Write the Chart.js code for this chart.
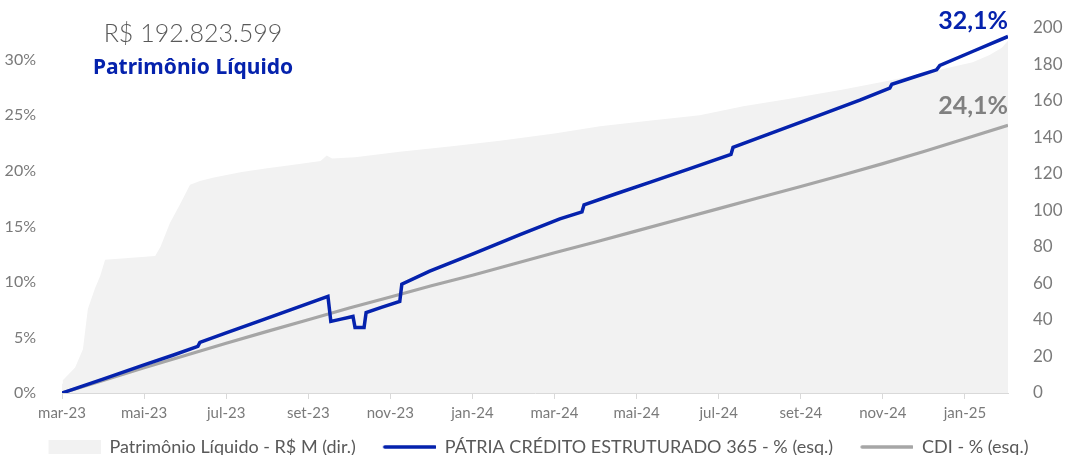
<!DOCTYPE html>
<html><head><meta charset="utf-8">
<script src="https://cdn.jsdelivr.net/npm/chart.js@4.4.1/dist/chart.umd.min.js"></script>
<style>html,body{margin:0;padding:0;background:#fff}#wrap{width:1065px;height:455px}</style>
</head><body><div id="wrap"><canvas id="c" width="1065" height="455"></canvas></div>
<script>
// ---- data (x = months after the first label, mar-23) ----
const tickLabels = ['mar-23','mai-23','jul-23','set-23','nov-23','jan-24','mar-24','mai-24','jul-24','set-24','nov-24','jan-25'];
const tickPositions = [0,2,4,6,8,10,12,14,16,18,20,22];
const leftTicks = [0,5,10,15,20,25,30];

const plMonths = [0,0.02,0.32,0.51,0.63,0.8,0.93,1.05,2.27,2.4,2.63,2.87,3.12,3.36,3.7,4.38,5.0,5.51,6.0,6.3,6.45,6.58,7.14,8.23,9.5,10.67,12.0,13.11,14.3,15.54,16.6,17.73,19.0,20.17,21.2,22.19,22.6,22.9,23.05];
const plValues = [5,7,14,24,46,57,64,73,75,80,93,103,114,116,118,121,123,124.5,126,127,130,128.4,129,132,135,138,142,146,149,152,157,161,166,171,176,181,185,189,192.8];

const fundMonths = [0,1,2,2.7,3.31,3.36,4.0,4.82,5.6,6.48,6.55,6.8,7.09,7.14,7.36,7.41,7.8,8.23,8.28,8.96,10.0,11.16,12.13,12.67,12.72,13.5,14.32,15.3,16.30,16.35,17.25,18.3,19.44,20.17,20.22,20.8,21.31,21.39,22.2,23.05];
const fundValues = [0,1.25,2.54,3.4,4.2,4.56,5.41,6.5,7.53,8.70,6.44,6.65,6.89,5.89,5.89,7.25,7.73,8.25,9.79,10.97,12.5,14.25,15.68,16.31,16.95,17.94,18.97,20.21,21.48,22.11,23.35,24.8,26.37,27.46,27.8,28.5,29.1,29.5,30.77,32.1];

const cdiMonths = [0,1,2,3,4,5,6,7,8,9,10,11,12,13,14,15,16,17,18,19,20,21,22,23.05];
const cdiValues = [0,1.13,2.27,3.38,4.48,5.55,6.6,7.65,8.65,9.65,10.6,11.62,12.63,13.6,14.6,15.6,16.6,17.6,18.6,19.6,20.65,21.75,22.9,24.1];

const fundLastLabel = '32,1%';
const cdiLastLabel = '24,1%';
const plTotalText = 'R$ 192.823.599';
const plTitleText = 'Patrimônio Líquido';

const BLUE = '#0522ad';
const GRAY = '#a6a6a6';
const AREA = '#f2f2f2';
const FONT = 'Lato, "Noto Sans", sans-serif';

const toPts = (xs, ys) => xs.map((x, i) => ({x, y: ys[i]}));

// legend symbols (blank gap on the left, symbol 52px wide on the right)
const SYM_W = 64, SYM_H = 14, SYM_GAP = 12;
function symbol(kind, color, lw) {
  const c = document.createElement('canvas');
  c.width = SYM_W; c.height = SYM_H;
  const g = c.getContext('2d');
  if (kind === 'rect') {
    g.fillStyle = color;
    g.fillRect(SYM_GAP, 0, SYM_W - SYM_GAP, SYM_H);
  } else {
    g.strokeStyle = color;
    g.lineWidth = lw;
    g.lineCap = 'round';
    g.beginPath();
    g.moveTo(SYM_GAP + 1, SYM_H / 2);
    g.lineTo(SYM_W - 1, SYM_H / 2);
    g.stroke();
  }
  return c;
}

const textPlugin = {
  id: 'texts',
  afterDatasetsDraw(chart) {
    const ctx = chart.ctx;
    const ca = chart.chartArea;
    ctx.save();
    ctx.textAlign = 'center';
    ctx.textBaseline = 'middle';
    ctx.fillStyle = '#595959';
    ctx.font = '300 25px ' + FONT;
    ctx.fillText(plTotalText, 193, 34);
    ctx.fillStyle = BLUE;
    ctx.font = 'bold 21px "Noto Sans", sans-serif';
    ctx.fillText(plTitleText, 193, 68);
    const mF = chart.getDatasetMeta(1).data;
    const mC = chart.getDatasetMeta(2).data;
    const pF = mF[mF.length - 1], pC = mC[mC.length - 1];
    ctx.textAlign = 'right';
    ctx.textBaseline = 'alphabetic';
    ctx.font = 'bold 25px ' + FONT;
    ctx.fillStyle = BLUE;
    ctx.fillText(fundLastLabel, ca.right, pF.y - 7);
    ctx.fillStyle = '#808080';
    ctx.fillText(cdiLastLabel, ca.right, pC.y - 11);
    ctx.restore();
  }
};

new Chart(document.getElementById('c'), {
  type: 'line',
  data: {
    datasets: [
      {
        label: 'Patrimônio Líquido - R$ M (dir.)',
        data: toPts(plMonths, plValues),
        yAxisID: 'y2',
        fill: 'origin',
        backgroundColor: AREA,
        borderWidth: 0,
        borderColor: 'rgba(0,0,0,0)',
        pointRadius: 0,
        pointStyle: symbol('rect', AREA),
        pointBorderWidth: 0,
        order: 3
      },
      {
        label: 'PÁTRIA CRÉDITO ESTRUTURADO 365 - % (esq.)',
        data: toPts(fundMonths, fundValues),
        yAxisID: 'y',
        borderColor: BLUE,
        borderWidth: 3.5,
        pointRadius: 0,
        pointStyle: symbol('line', BLUE, 3.6),
        pointBorderWidth: 0,
        fill: false,
        tension: 0,
        order: 1
      },
      {
        label: 'CDI - % (esq.)',
        data: toPts(cdiMonths, cdiValues),
        yAxisID: 'y',
        borderColor: GRAY,
        borderWidth: 3.2,
        pointRadius: 0,
        pointStyle: symbol('line', GRAY, 3.4),
        pointBorderWidth: 0,
        fill: false,
        tension: 0,
        order: 2
      }
    ]
  },
  options: {
    responsive: false,
    animation: false,
    events: [],
    layout: {padding: {top: 23, left: 0, right: 0, bottom: -11}},
    plugins: {
      tooltip: {enabled: false},
      legend: {
        position: 'bottom',
        labels: {
          usePointStyle: true,
          pointStyleWidth: SYM_W,
          boxHeight: 13,
          padding: 16,
          color: '#595959',
          font: {family: FONT, size: 18},
          sort: (a, b) => a.datasetIndex - b.datasetIndex
        }
      }
    },
    scales: {
      x: {
        type: 'linear',
        min: 0,
        max: 23.05,
        afterBuildTicks: s => { s.ticks = tickPositions.map(v => ({value: v})); },
        afterFit: s => { s.height = 29; },
        ticks: {
          autoSkip: false, maxRotation: 0, padding: 5,
          color: '#7a7a7a', font: {family: FONT, size: 15},
          callback: (v, i) => tickLabels[i]
        },
        grid: {drawOnChartArea: false, drawTicks: true, tickLength: 6, color: '#d9d9d9'},
        border: {display: true, color: '#d9d9d9', width: 1}
      },
      y: {
        position: 'left',
        min: 0,
        max: 32.9,
        afterBuildTicks: s => { s.ticks = leftTicks.map(v => ({value: v})); },
        afterFit: s => { s.width = 62; },
        ticks: {
          padding: 18, color: '#7a7a7a', font: {family: FONT, size: 16},
          callback: v => v + '%'
        },
        grid: {display: false},
        border: {display: false}
      },
      y2: {
        position: 'right',
        min: 0,
        max: 200,
        afterFit: s => { s.width = 57; },
        ticks: {
          stepSize: 20, padding: 17, color: '#7a7a7a', font: {family: FONT, size: 17}
        },
        grid: {display: false},
        border: {display: false}
      }
    }
  },
  plugins: [textPlugin]
});
</script>
</body></html>
